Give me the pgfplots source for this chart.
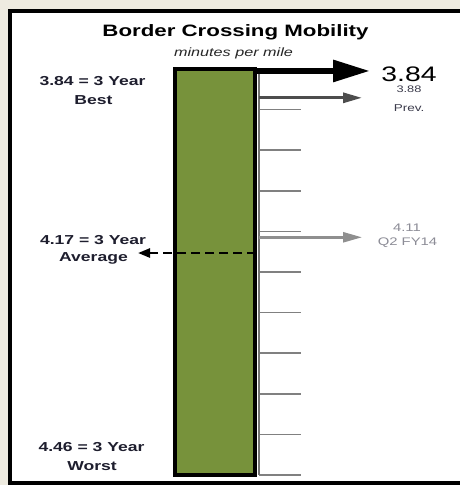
\documentclass[border=0pt]{standalone}
\usepackage{pgfplots}
\pgfplotsset{compat=1.18}
\usepackage{fontspec}
\setmainfont{Liberation Sans}[FakeStretch=1.35]
\usetikzlibrary{arrows.meta}
\definecolor{bgbeige}{HTML}{EEEBE0}
\definecolor{bargreen}{HTML}{77923B}
\definecolor{prevgray}{HTML}{4D4D4D}
\definecolor{qgray}{HTML}{8F8F8F}
\definecolor{tickgray}{HTML}{808080}
\definecolor{labdark}{HTML}{1E1E2E}
\definecolor{prevtxt}{HTML}{3C3C4C}
\definecolor{qtxt}{HTML}{8C8C96}
\newcommand{\py}[1]{{3.73463+(#1)/654.84}}
\newcommand{\fs}[1]{\fontsize{#1}{#1}\selectfont}
\begin{document}
\begin{tikzpicture}
\begin{axis}[
  at={(0,0)}, anchor=south west,
  scale only axis, width=460pt, height=485pt,
  xmin=0, xmax=460, ymin=3.73463, ymax=4.47527,
  y dir=reverse, hide axis, clip=false,
]
% background and frame
\fill[bgbeige] (axis cs:0,\py{0}) rectangle (axis cs:460,\py{485});
\fill[white] (axis cs:10,\py{11}) rectangle (axis cs:460,\py{483});
\draw[line width=4pt] (axis cs:460,\py{11}) -- (axis cs:10,\py{11}) -- (axis cs:10,\py{483}) -- (axis cs:460,\py{483});
% scale ticks
\pgfplotsinvokeforeach{3.84,3.902,3.964,4.026,4.088,4.15,4.212,4.274,4.336,4.398,4.46}{
  \addplot[tickgray, line width=1.5pt, forget plot] coordinates {(259,#1) (301,#1)};
}
\addplot[tickgray!90!black, line width=2pt] coordinates {(259,3.84) (259,4.46)};
% bar: 3 year best to 3 year worst
\addplot[fill=bargreen, draw=black, line width=4pt] coordinates {(175,3.84) (255,3.84) (255,4.46) (175,4.46)} -- cycle;
% average (dashed)
\addplot[black, line width=2.5pt, dash pattern=on 9pt off 5pt, -{Triangle[length=12pt,width=9pt]}] coordinates {(256,4.121) (138,4.121)};
% Q2 FY14
\addplot[qgray, line width=2.5pt, -{Triangle[length=19pt,width=10pt]}] coordinates {(259,4.097) (362,4.097)};
% previous
\addplot[prevgray, line width=3pt, -{Triangle[length=19pt,width=10pt]}] coordinates {(259,3.884) (362,3.884)};
% current
\addplot[black, line width=6pt, -{Triangle[length=37pt,width=21pt]}] coordinates {(257,3.843) (370,3.843)};
% titles
\node[anchor=base] at (axis cs:235.5,\py{37}) {\fs{16.5}\bfseries Border Crossing Mobility};
\node[anchor=base, text=black!85] at (axis cs:233.5,\py{57}) {\fs{12}\itshape minutes per mile};
% left labels
\node[anchor=base, text=labdark] at (axis cs:92.5,\py{85.5}) {\fs{13}\bfseries 3.84 = 3 Year};
\node[anchor=base, text=labdark] at (axis cs:93.5,\py{104.5}) {\fs{13}\bfseries Best};
\node[anchor=base, text=labdark] at (axis cs:93,\py{244}) {\fs{13}\bfseries 4.17 = 3 Year};
\node[anchor=base, text=labdark] at (axis cs:93.5,\py{261.5}) {\fs{13}\bfseries Average};
\node[anchor=base, text=labdark] at (axis cs:91.5,\py{451.5}) {\fs{13}\bfseries 4.46 = 3 Year};
\node[anchor=base, text=labdark] at (axis cs:92,\py{471}) {\fs{13}\bfseries Worst};
% right labels
\node[anchor=base, text=black, inner sep=0pt] at (axis cs:409,\py{82}) {\fs{21}3.84};
\node[anchor=base, text=prevtxt, inner sep=0pt] at (axis cs:409,\py{93}) {\fs{9.5}3.88};
\node[anchor=base, text=prevtxt] at (axis cs:409,\py{111.5}) {\fs{10}Prev.};
\node[anchor=base, text=qtxt] at (axis cs:407,\py{231.5}) {\fs{11}4.11};
\node[anchor=base, text=qtxt] at (axis cs:407.5,\py{245.5}) {\fs{11}Q2 FY14};
\end{axis}
\pgfresetboundingbox
\path[use as bounding box] (current axis.south west) rectangle (current axis.north east);
\end{tikzpicture}
\end{document}
